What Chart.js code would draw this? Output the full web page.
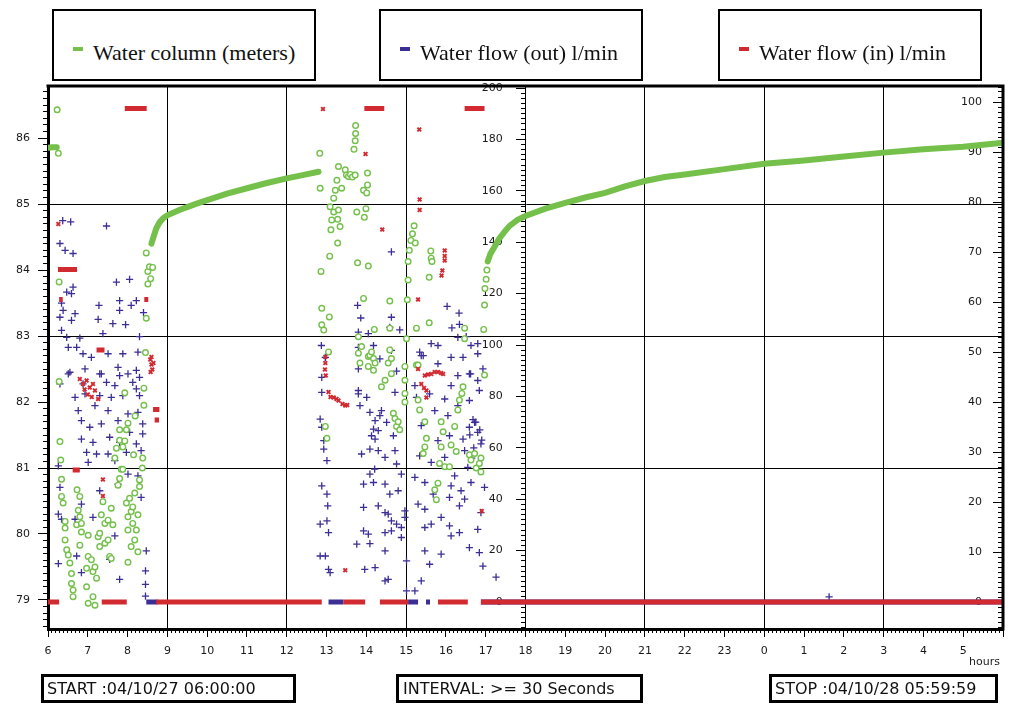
<!DOCTYPE html>
<html lang="en">
<head>
<meta charset="UTF-8">
<title>Water column and water flow</title>
<script src="https://cdn.jsdelivr.net/npm/chart.js"></script>
<style>
    body { margin: 0; background: #fff; }
    #wrap { position: relative; width: 1011px; height: 704px; overflow: hidden; }
    #chart { position: absolute; left: 0; top: 0; }
    .legend-box {
        position: absolute; top: 9px; width: 260px; height: 68px;
        border: 2px solid #000; background: #fff;
        font-family: "Liberation Serif", "Times New Roman", serif; font-size: 22px; color: #111;
    }
    .legend-box .dash { position: absolute; left: 19px; top: 36px; width: 10px; height: 4px; }
    .legend-box .txt { position: absolute; left: 39px; top: 29px; line-height: 25px; white-space: nowrap; }
    .info-box {
        position: absolute; top: 674px; height: 23px; border: 3px solid #000;
        font-family: "DejaVu Sans", sans-serif; font-size: 16px; line-height: 23px; color: #111;
        white-space: nowrap; box-sizing: content-box;
    }
    #hours { position: absolute; left: 969px; top: 655px; font: 11px "DejaVu Sans", sans-serif; color: #222; }
</style>
</head>
<body>
<div id="wrap">
    <canvas id="chart" width="1011" height="704"></canvas>

    <div class="legend-box" style="left:52px"><span class="dash" style="background:#74c04b"></span><span class="txt">Water column (meters)</span></div>
    <div class="legend-box" style="left:379px"><span class="dash" style="background:#3b2f95"></span><span class="txt">Water flow (out) l/min</span></div>
    <div class="legend-box" style="left:718px"><span class="dash" style="background:#d22a31"></span><span class="txt">Water flow (in) l/min</span></div>

    <div id="hours">hours</div>

    <div class="info-box" style="left:41px; width:246px; padding-left:3px">START :04/10/27 06:00:00</div>
    <div class="info-box" style="left:396px; width:237px; padding-left:4px">INTERVAL: &gt;= 30 Seconds</div>
    <div class="info-box" style="left:769px; width:220px; padding-left:3px">STOP :04/10/28 05:59:59</div>
</div>

<script>
    // axis ranges (hours on x, meters on left, l/min in the middle and on the right)
    const X_MIN = 6, X_MAX = 30;
    const M_MIN = 78.56, M_MAX = 86.79;
    const OUT_MIN = -10.5, OUT_MAX = 200.78;
    const IN_MIN = -5.4, IN_MAX = 103.2;

    const GREEN = '#74c04b', BLUE = '#3b2f95', RED = '#d22a31';

    // water column, continuous logging stretches (hour, meters)
    const columnCurves = [
        [[5.95, 85.85], [6.1, 85.86], [6.22, 85.86]],
        [[8.6, 84.4], [8.65, 84.5], [8.72, 84.63], [8.8, 84.72], [8.9, 84.79], [9.0, 84.83], [9.3, 84.91],
         [9.7, 85.0], [10.0, 85.06], [10.5, 85.16], [11.0, 85.24], [11.5, 85.32], [12.0, 85.39], [12.4, 85.44], [12.8, 85.49]],
        [[17.05, 84.13], [17.12, 84.25], [17.22, 84.35], [17.33, 84.47], [17.47, 84.58], [17.6, 84.67], [17.8, 84.76],
         [18.0, 84.82], [18.5, 84.93], [19.0, 85.02], [19.5, 85.1], [20.0, 85.17], [20.5, 85.27], [21.0, 85.35],
         [21.5, 85.41], [22.0, 85.45], [23.0, 85.53], [24.0, 85.61], [25.0, 85.66], [26.0, 85.72],
         [27.0, 85.78], [28.0, 85.83], [29.0, 85.87], [30.0, 85.93]]
    ];

    // water column, scattered readings (hour, meters)
    const columnPoints = [
        [6.23, 86.43], [6.26, 85.77], [6.28, 83.82], [6.28, 82.31], [6.3, 81.4], [6.32, 81.12], [6.34, 80.83], [6.34, 80.57],
        [6.38, 80.47], [6.43, 80.19], [6.43, 80.09], [6.43, 79.91], [6.47, 79.76], [6.51, 79.68], [6.55, 79.56], [6.59, 79.4],
        [6.59, 79.25], [6.63, 79.15], [6.63, 79.05], [6.72, 80.14], [6.73, 80.67], [6.76, 80.36], [6.8, 80.57], [6.8, 80.26],
        [6.8, 79.83], [6.84, 80.16], [6.84, 80.03], [6.97, 79.48], [6.97, 79.2], [7.01, 79.98], [7.01, 79.66], [7.01, 78.95],
        [7.09, 79.61], [7.13, 79.43], [7.13, 79.05], [7.18, 79.5], [7.18, 78.92], [7.22, 79.33], [7.26, 79.96], [7.3, 80.01],
        [7.3, 79.81], [7.34, 80.29], [7.38, 80.49], [7.43, 80.16], [7.43, 79.86], [7.51, 80.21], [7.51, 79.91], [7.55, 79.66],
        [7.59, 80.39], [7.59, 79.63], [7.63, 80.14], [7.68, 81.15], [7.72, 81.3], [7.76, 80.74], [7.8, 81.58], [7.8, 81.42],
        [7.8, 80.84], [7.84, 80.98], [7.88, 81.32], [7.88, 80.98], [7.93, 82.14], [7.93, 81.41], [7.97, 80.47], [7.97, 81.58],
        [8.01, 81.68], [8.01, 80.26], [8.01, 80.06], [8.01, 79.57], [8.05, 80.54], [8.09, 80.34], [8.09, 79.81], [8.13, 80.41],
        [8.13, 80.16], [8.15, 81.2], [8.18, 80.62], [8.18, 79.91], [8.19, 81.79], [8.22, 80.06], [8.26, 80.29], [8.26, 79.73],
        [8.3, 80.82], [8.3, 80.72], [8.37, 81.0], [8.38, 81.15], [8.41, 82.21], [8.41, 81.95], [8.45, 82.75], [8.47, 83.27],
        [8.47, 84.26], [8.51, 83.98], [8.51, 83.79], [8.55, 84.05], [8.58, 83.87], [8.63, 84.04],
        [12.83, 85.77], [12.84, 85.24], [12.86, 83.98], [12.88, 83.42], [12.88, 83.17], [12.93, 83.09], [12.97, 81.63],
        [13.01, 81.45], [13.05, 82.76], [13.07, 83.29], [13.08, 84.21], [13.09, 84.96], [13.11, 84.61], [13.13, 84.76],
        [13.18, 85.09], [13.18, 84.88], [13.22, 85.21], [13.26, 85.36], [13.28, 84.77], [13.28, 84.41], [13.3, 85.57],
        [13.3, 84.91], [13.34, 84.66], [13.38, 85.24], [13.47, 85.52], [13.5, 85.44], [13.55, 85.42], [13.6, 85.45],
        [13.65, 85.41], [13.69, 85.83], [13.72, 85.96], [13.72, 85.44], [13.73, 86.19], [13.73, 86.07], [13.76, 84.88],
        [13.78, 84.11], [13.8, 82.99], [13.8, 82.74], [13.84, 82.59], [13.88, 82.84], [13.93, 85.21], [13.93, 83.57],
        [13.95, 84.8], [13.99, 84.93], [14.01, 85.17], [14.03, 85.47], [14.03, 85.29], [14.05, 84.06], [14.05, 82.69],
        [14.05, 82.54], [14.09, 82.71], [14.13, 82.76], [14.18, 82.66], [14.18, 82.48], [14.2, 83.1], [14.22, 82.59],
        [14.38, 82.23], [14.47, 82.33], [14.55, 82.59], [14.59, 83.53], [14.59, 83.12], [14.59, 82.79], [14.63, 82.66],
        [14.63, 82.43], [14.68, 81.83], [14.72, 81.75], [14.76, 81.63], [14.8, 81.7], [14.84, 81.58], [14.97, 82.54],
        [14.97, 82.33], [14.97, 82.13], [14.97, 82.0], [15.01, 82.96], [15.03, 83.55], [15.05, 84.13], [15.05, 83.85],
        [15.08, 84.3], [15.12, 84.45], [15.16, 84.55], [15.2, 84.67], [15.23, 84.41], [15.26, 83.12], [15.26, 82.56],
        [15.3, 82.56], [15.3, 82.03], [15.34, 81.88], [15.43, 81.22], [15.47, 81.7], [15.47, 81.32], [15.51, 81.45],
        [15.58, 83.89], [15.58, 83.2], [15.62, 84.29], [15.63, 84.18], [15.65, 84.13], [15.72, 80.67], [15.76, 80.52],
        [15.8, 80.77], [15.84, 81.07], [15.88, 81.7], [15.88, 81.32], [15.93, 81.55], [15.97, 81.02], [16.09, 81.02],
        [16.13, 81.35], [16.22, 81.63], [16.26, 81.25], [16.3, 81.88], [16.34, 82.03], [16.4, 82.13], [16.43, 82.23],
        [16.47, 83.12], [16.47, 82.96], [16.59, 81.2], [16.63, 81.12], [16.72, 81.22], [16.76, 81.0], [16.84, 81.07],
        [16.88, 81.15], [16.88, 80.94], [16.95, 83.1], [16.97, 83.47], [16.97, 82.41], [16.98, 83.72], [17.01, 83.86], [17.03, 84.0]
    ];

    // water flow out (hour, l/min)
    const flowOutPoints = [
        [6.26, 53.0], [6.26, 34.2], [6.26, 14.9], [6.3, 139.5], [6.3, 110.8], [6.3, 84.9], [6.3, 44.6], [6.34, 116.3],
        [6.34, 105.7], [6.34, 32.2], [6.37, 148.4], [6.38, 113.5], [6.43, 136.8], [6.47, 120.6], [6.47, 103.0], [6.51, 99.1],
        [6.51, 88.8], [6.55, 89.4], [6.57, 147.9], [6.59, 120.0], [6.59, 109.6], [6.63, 135.6], [6.63, 122.5], [6.68, 112.2],
        [6.68, 79.6], [6.68, 32.2], [6.72, 99.1], [6.72, 17.9], [6.76, 74.5], [6.8, 102.7], [6.84, 70.6], [6.84, 63.4],
        [6.84, 38.1], [6.84, 11.4], [6.88, 96.6], [6.88, 84.9], [6.93, 90.7], [6.93, 81.0], [6.97, 58.2], [7.01, 54.3],
        [7.05, 68.0], [7.09, 95.2], [7.13, 62.1], [7.13, 32.9], [7.18, 76.4], [7.22, 57.6], [7.26, 110.0], [7.28, 115.4],
        [7.3, 88.8], [7.3, 80.3], [7.3, 43.3], [7.34, 88.8], [7.34, 69.3], [7.38, 104.4], [7.47, 146.3], [7.47, 85.5],
        [7.51, 96.6], [7.51, 74.5], [7.51, 57.6], [7.55, 64.1], [7.55, 16.6], [7.59, 79.6], [7.63, 108.3], [7.68, 84.2],
        [7.68, 55.0], [7.68, 25.7], [7.72, 124.5], [7.76, 91.3], [7.76, 70.6], [7.76, 45.9], [7.8, 117.3], [7.8, 113.5],
        [7.8, 88.1], [7.8, 62.1], [7.8, 8.8], [7.88, 96.6], [7.88, 80.3], [7.95, 107.9], [7.97, 58.2], [8.01, 88.8],
        [8.01, 73.2], [8.01, 49.8], [8.05, 125.5], [8.05, 66.0], [8.09, 115.4], [8.13, 85.5], [8.22, 117.3], [8.22, 90.1],
        [8.22, 82.9], [8.22, 61.5], [8.26, 97.2], [8.26, 73.8], [8.26, 49.1], [8.3, 103.3], [8.3, 87.4], [8.3, 80.3],
        [8.34, 58.9], [8.34, 40.7], [8.38, 69.3], [8.38, 65.4], [8.4, 112.6], [8.45, 12.1], [8.45, 6.9], [8.45, 2.3], [8.47, 19.9],
        [12.84, 71.2], [12.84, 30.3], [12.84, 17.9], [12.87, 99.8], [12.88, 87.4], [12.88, 81.6], [12.88, 68.0], [12.88, 45.2],
        [12.93, 62.8], [12.93, 59.5], [12.97, 95.2], [12.97, 17.9], [13.01, 55.0], [13.01, 42.0], [13.01, 31.6], [13.03, 37.4],
        [13.05, 27.0], [13.05, 12.7], [13.09, 11.4], [13.76, 22.5], [13.78, 115.4], [13.8, 105.0], [13.8, 99.1], [13.8, 90.7],
        [13.8, 82.3], [13.8, 81.0], [13.84, 76.4], [13.86, 110.5], [13.88, 57.6], [13.93, 45.9], [13.93, 36.8], [13.93, 27.7],
        [13.96, 12.7], [14.01, 79.6], [14.05, 104.4], [14.05, 26.4], [14.09, 73.8], [14.09, 59.5], [14.09, 49.8], [14.09, 22.7],
        [14.13, 64.7], [14.18, 99.8], [14.18, 67.3], [14.18, 46.5], [14.21, 51.7], [14.22, 70.6], [14.22, 63.4], [14.22, 13.4],
        [14.3, 66.7], [14.3, 58.9], [14.3, 37.4], [14.34, 94.6], [14.34, 72.5], [14.38, 74.5], [14.47, 56.3], [14.47, 45.9],
        [14.47, 34.8], [14.47, 27.0], [14.47, 19.9], [14.47, 8.2], [14.51, 69.9], [14.55, 34.2], [14.55, 8.8], [14.59, 106.9],
        [14.59, 42.0], [14.63, 136.2], [14.63, 110.8], [14.63, 97.9], [14.63, 31.6], [14.63, 27.7], [14.68, 64.7], [14.72, 81.6],
        [14.72, 58.9], [14.76, 89.8], [14.76, 53.7], [14.76, 30.3], [14.8, 43.3], [14.84, 105.9], [14.88, 49.8], [14.88, 29.0],
        [14.88, 25.1], [14.97, 35.5], [14.97, 32.9], [15.01, 16.0], [15.01, 4.3], [15.22, 84.2], [15.22, 48.5], [15.22, 4.3],
        [15.26, 79.6], [15.3, 38.1], [15.34, 97.2], [15.34, 56.9], [15.38, 95.9], [15.38, 68.6], [15.38, 8.2], [15.43, 95.9],
        [15.47, 46.5], [15.47, 36.1], [15.47, 29.0], [15.47, 19.9], [15.59, 81.0], [15.59, 14.7], [15.63, 100.5], [15.63, 54.3],
        [15.63, 30.3], [15.68, 42.0], [15.72, 74.5], [15.8, 99.8], [15.8, 92.7], [15.8, 62.8], [15.88, 32.9], [15.88, 18.6],
        [15.97, 79.0], [15.97, 56.3], [16.03, 115.0], [16.05, 72.5], [16.09, 64.7], [16.09, 40.7], [16.09, 29.6], [16.13, 95.2],
        [16.13, 84.2], [16.13, 45.2], [16.13, 25.7], [16.15, 106.7], [16.22, 49.1], [16.3, 103.0], [16.3, 88.1], [16.3, 76.4],
        [16.33, 112.4], [16.34, 108.0], [16.34, 37.4], [16.34, 27.0], [16.38, 43.3], [16.43, 95.2], [16.43, 63.4], [16.47, 58.9],
        [16.47, 40.0], [16.51, 103.3], [16.55, 52.4], [16.59, 88.8], [16.59, 78.4], [16.59, 68.0], [16.59, 21.2], [16.6, 65.0],
        [16.62, 88.8], [16.63, 99.8], [16.63, 46.5], [16.65, 56.0], [16.68, 71.0], [16.7, 60.0], [16.72, 69.9], [16.75, 70.0],
        [16.8, 100.5], [16.8, 96.6], [16.8, 86.2], [16.8, 66.0], [16.8, 28.3], [16.84, 82.3], [16.84, 19.2], [16.85, 67.0],
        [16.88, 61.5], [16.88, 34.8], [16.9, 63.0], [16.93, 90.7], [16.93, 14.0], [16.97, 44.6], [17.26, 9.7], [25.63, 2.0]
    ];
    // flow out logged at zero (start hour, end hour)
    const flowOutZero = [[8.47, 8.75], [13.05, 13.42], [15.05, 15.3], [15.5, 15.6], [16.88, 30]];

    // water flow in (hour, l/min)
    const flowInPoints = [
        [6.26, 75.6], [6.8, 44.6], [6.88, 43.6], [6.92, 42.5], [6.97, 44.3], [7.0, 41.5], [7.05, 42.9], [7.1, 41.0],
        [7.13, 43.6], [7.18, 42.3], [7.26, 40.6], [7.38, 24.5], [7.38, 21.2], [8.57, 48.5], [8.58, 46.0], [8.6, 47.5],
        [8.6, 49.0], [8.62, 46.5], [8.65, 47.8], [12.91, 98.6], [12.96, 46.5], [12.97, 49.0], [12.97, 47.8], [12.98, 45.3],
        [13.05, 42.0], [13.1, 41.0], [13.18, 40.9], [13.25, 40.6], [13.3, 40.3], [13.4, 39.6], [13.47, 39.3], [13.52, 39.4],
        [13.47, 6.35], [13.98, 89.6], [14.4, 74.5], [15.3, 60.5], [15.3, 46.6], [15.33, 94.5], [15.34, 80.5], [15.34, 78.4],
        [15.38, 43.6], [15.45, 42.8], [15.47, 45.3], [15.51, 42.3], [15.51, 40.9], [15.55, 45.5], [15.63, 45.6], [15.72, 46.0],
        [15.8, 46.0], [15.88, 45.8], [15.89, 65.3], [15.91, 66.3], [15.93, 45.6], [15.97, 70.3], [15.97, 69.2], [15.97, 68.3],
        [16.9, 18.2]
    ];
    // flow in held at one level (start hour, end hour, l/min)
    const flowInRuns = [
        [7.93, 8.48, 98.7], [13.95, 14.45, 98.7], [16.47, 16.97, 98.7], [6.25, 6.73, 66.5], [6.28, 6.37, 60.5],
        [8.42, 8.52, 60.5], [7.22, 7.42, 50.4], [6.62, 6.8, 26.4], [8.64, 8.8, 38.5], [8.68, 8.79, 36.4]
    ];
    // flow in logged at zero (start hour, end hour)
    const flowInZero = [[5.95, 6.28], [7.35, 7.98], [8.72, 12.88], [13.42, 13.97], [14.34, 15.05], [15.8, 16.55], [16.88, 30]];

    const toXY = list => list.map(([x, y]) => ({ x, y }));
    const runs = list => list.flatMap(([a, b, y]) => [{ x: a, y }, { x: b, y }, { x: b, y: null }]);
    const curves = list => list.flatMap(c => [...toXY(c), { x: c[c.length - 1][0], y: null }]);

    // plot frame on top and right edge
    const framePlugin = {
        id: 'frame',
        afterDraw(chart) {
            const { ctx, chartArea: a } = chart;
            ctx.save();
            ctx.strokeStyle = '#000';
            ctx.lineWidth = 3;
            ctx.beginPath();
            ctx.moveTo(a.left - 1.5, a.top);
            ctx.lineTo(a.right, a.top);
            ctx.lineTo(a.right, a.bottom + 1.5);
            ctx.stroke();
            ctx.restore();
        }
    };

    Chart.defaults.font.family = '"DejaVu Sans", Verdana, sans-serif';
    Chart.defaults.font.size = 11;
    Chart.defaults.color = '#1a1a1a';

    const none = 'rgba(0,0,0,0)';
    const tickAxis = (pos, min, max, step, len) => ({
        type: 'linear', axis: 'y', position: pos, min, max,
        ticks: { display: false, stepSize: step, includeBounds: false },
        grid: { drawOnChartArea: false, tickLength: len, tickColor: '#000' },
        border: { display: false }
    });
    const labelAxis = (pos, min, max, step) => ({
        type: 'linear', axis: 'y', position: pos, min, max,
        ticks: { stepSize: step, includeBounds: false, padding: 0 },
        grid: { drawOnChartArea: false, drawTicks: false },
        border: { display: false }
    });

    new Chart(document.getElementById('chart'), {
        type: 'scatter',
        data: {
            datasets: [
                {
                    label: 'Water flow (in) l/min', data: toXY(flowInPoints), yAxisID: 'yIn', order: 0,
                    pointStyle: 'crossRot', pointRadius: 2.6, borderWidth: 2, borderColor: RED, backgroundColor: RED
                },
                {
                    label: 'in runs', data: runs(flowInRuns), yAxisID: 'yIn', order: 1, showLine: true,
                    pointRadius: 0, borderWidth: 5, borderColor: RED, borderCapStyle: 'butt'
                },
                {
                    label: 'in zero', data: runs(flowInZero.map(([a, b]) => [a, b, 0])), yAxisID: 'yIn', order: 1,
                    showLine: true, pointRadius: 0, borderWidth: 5, borderColor: RED, borderCapStyle: 'butt'
                },
                {
                    label: 'Water column (meters)', data: toXY(columnPoints), yAxisID: 'y', order: 2,
                    pointStyle: 'circle', pointRadius: 2.8, borderWidth: 1.4, borderColor: GREEN, backgroundColor: '#fff'
                },
                {
                    label: 'column curve', data: curves(columnCurves), yAxisID: 'y', order: 3, showLine: true,
                    pointRadius: 0, borderWidth: 6, borderColor: GREEN, borderCapStyle: 'round'
                },
                {
                    label: 'Water flow (out) l/min', data: toXY(flowOutPoints), yAxisID: 'yOut', order: 4,
                    pointStyle: 'cross', pointRadius: 3.6, borderWidth: 1.3, borderColor: BLUE, backgroundColor: BLUE
                },
                {
                    label: 'out zero', data: runs(flowOutZero.map(([a, b]) => [a, b, 0])), yAxisID: 'yOut', order: 5,
                    showLine: true, pointRadius: 0, borderWidth: 5, borderColor: BLUE, borderCapStyle: 'butt'
                }
            ]
        },
        options: {
            responsive: false,
            animation: false,
            events: [],
            layout: { padding: { left: 0, top: 86, right: 3, bottom: 35 } },
            plugins: { legend: { display: false }, tooltip: { enabled: false } },
            scales: {
                x: {
                    type: 'linear', position: 'bottom', min: X_MIN, max: X_MAX,
                    afterFit: s => { s.height = 40; },
                    ticks: {
                        stepSize: 1, autoSkip: false, maxRotation: 0, includeBounds: false, padding: 8,
                        callback: v => (v >= 30 ? '' : String(v % 24))
                    },
                    grid: {
                        color: c => (c.tick && c.tick.value % 3 === 0 && c.tick.value > X_MIN && c.tick.value < X_MAX) ? '#000' : none,
                        tickColor: '#000', tickLength: 8
                    },
                    border: { color: '#000', width: 3 }
                },
                xMinor: {
                    type: 'linear', axis: 'x', position: { y: M_MIN }, min: X_MIN, max: X_MAX,
                    ticks: { display: false, stepSize: 0.1, autoSkip: false, includeBounds: false },
                    grid: { drawOnChartArea: false, tickLength: 4, tickColor: '#000' },
                    border: { display: false }
                },
                y: {
                    type: 'linear', position: 'left', min: M_MIN, max: M_MAX,
                    afterFit: s => { s.width = 48; },
                    ticks: { stepSize: 1, includeBounds: false, padding: 8, callback: v => (Number.isInteger(v) ? v : '') },
                    grid: {
                        color: c => (c.tick && [81, 83, 85].includes(c.tick.value)) ? '#000' : none,
                        tickColor: '#000', tickLength: 10
                    },
                    border: { color: '#000', width: 3 }
                },
                yMinor: tickAxis({ x: X_MIN }, M_MIN, M_MAX, 0.1, 5),
                yOutTicks: tickAxis({ x: 18 }, OUT_MIN, OUT_MAX, 20, 10),
                yOutMinor: tickAxis({ x: 18 }, OUT_MIN, OUT_MAX, 2, 5),
                yOut: labelAxis({ x: 17.43 }, OUT_MIN, OUT_MAX, 20),
                yInTicks: tickAxis({ x: X_MAX }, IN_MIN, IN_MAX, 10, 10),
                yInMinor: tickAxis({ x: X_MAX }, IN_MIN, IN_MAX, 1, 5),
                yIn: labelAxis({ x: 29.47 }, IN_MIN, IN_MAX, 10)
            }
        },
        plugins: [framePlugin]
    });
</script>
</body>
</html>
